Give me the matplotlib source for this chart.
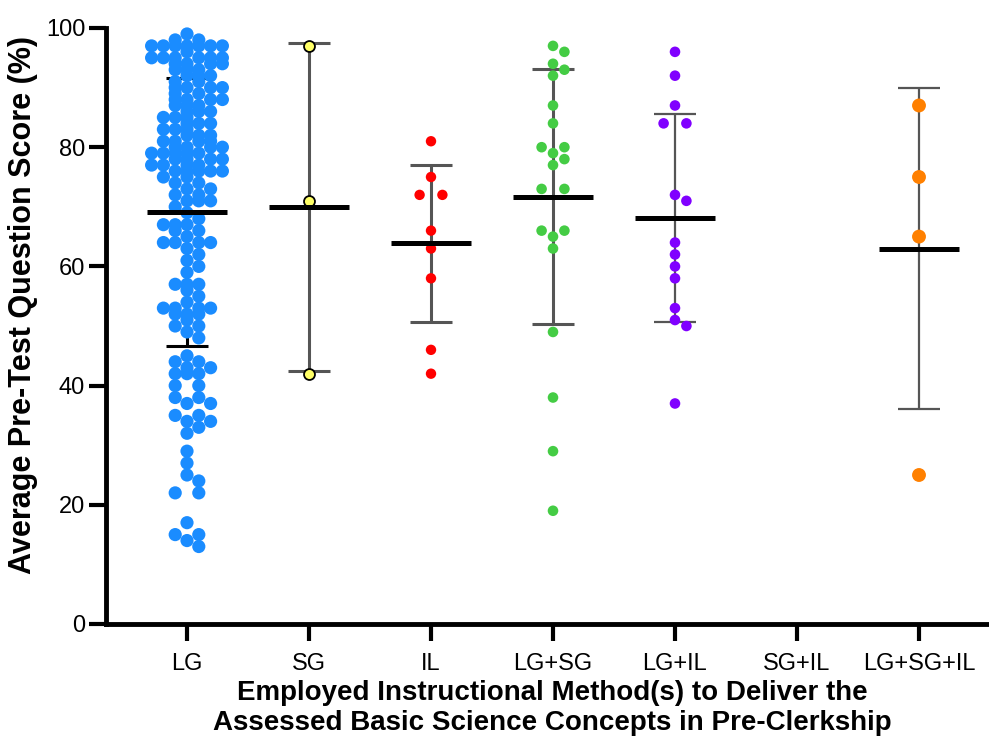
import numpy as np
import matplotlib.pyplot as plt

plt.rcParams['font.family'] = ['Liberation Sans', 'DejaVu Sans']

groups = ["LG", "SG", "IL", "LG+SG", "LG+IL", "SG+IL", "LG+SG+IL"]

# LG: score level -> number of concepts at that level
lg_levels = [99, 98, 97, 96, 95, 94, 93, 92, 91, 90,
             89, 88, 87, 86, 85, 84, 83, 82, 81, 80,
             79, 78, 77, 76, 75, 74, 73, 72, 71, 70,
             69, 68, 67, 66, 65, 64, 63, 62, 61, 60,
             59, 57, 56, 55, 54, 53, 52, 51, 50,
             49, 48, 45, 44, 43, 42, 40,
             38, 37, 35, 34, 33, 32,
             29, 27, 25, 24, 22, 17, 15, 14, 13]
lg_counts = [1, 2, 7, 1, 6, 4, 3, 3, 2, 4,
             2, 4, 3, 3, 3, 3, 3, 3, 4, 4,
             5, 4, 4, 5, 2, 2, 2, 2, 3, 1,
             1, 1, 3, 2, 1, 4, 1, 1, 1, 1,
             1, 3, 1, 1, 1, 4, 3, 1, 2,
             1, 1, 1, 2, 2, 3, 2,
             2, 2, 2, 2, 1, 1,
             1, 1, 1, 1, 2, 1, 2, 1, 1]
lg_scores = np.repeat(lg_levels, lg_counts)

sg_scores = [97, 71, 42]
il_scores = [81, 75, 72, 72, 66, 63, 58, 46, 42]
lgsg_scores = [97, 96, 94, 93, 92, 87, 84, 80, 80, 79, 78, 77,
               73, 73, 66, 66, 65, 63, 49, 38, 29, 19]
lgil_scores = [96, 92, 87, 84, 84, 72, 71, 64, 62, 60, 58, 53, 51, 50, 37]
sgil_scores = []
lgsgil_scores = [87, 75, 65, 25]

all_scores = [lg_scores, sg_scores, il_scores, lgsg_scores,
              lgil_scores, sgil_scores, lgsgil_scores]
colors = ["#1A8CFF", "#FFFF66", "#FF0000", "#44CC44", "#8000FF", "#888888", "#FF8000"]

# pixel scale of the axes (used to lay out the dot columns)
Y_PX = 5.96    # pixels per score unit
X_PX = 122.0   # pixels per category


def column_offsets(scores, step, gap):
    """Equal scores sit side by side in a row; each row is nudged sideways
    (by up to one step) to overlap the rows already drawn as little as possible."""
    scores = np.asarray(scores, float)
    xs = np.zeros(len(scores))
    placed = []
    shifts = [0.0, step, -step, step / 2, -step / 2]
    for v in sorted(set(scores), reverse=True):
        idx = np.where(scores == v)[0]
        n = len(idx)
        if n % 2:
            slots = np.arange(n) - (n - 1) / 2
        else:
            slots = np.concatenate([-np.arange(n // 2, 0, -1), np.arange(1, n // 2 + 1)])
        y = v * Y_PX
        best, best_cost = None, None
        for s in shifts:
            row = slots * step + s
            cost = 0.0
            for x in row:
                for px, py in placed:
                    d = np.hypot(x - px, y - py)
                    if d < gap:
                        cost += gap - d
            cost += 0.02 * np.abs(row).max()
            if best_cost is None or cost < best_cost - 1e-9:
                best, best_cost = row, cost
        xs[idx] = best
        placed += [(x, y) for x in best]
    return xs / X_PX


fig = plt.figure(figsize=(9.89, 7.39), dpi=100)
ax = fig.add_axes([106 / 989, 1 - 624 / 739, (989 - 106) / 989, (624 - 28) / 739])

dot_size = [90, 62, 56, 58, 58, 0, 100]
steps = [11.8, 11.4, 11.4, 11.4, 11.4, 11.4, 14]
bar_color = ["black", "#555555", "#555555", "#555555", "#555555", "#555555", "#555555"]
bar_lw = [2.2, 2.2, 2.2, 2.2, 1.6, 1.6, 1.6]

for i, scores in enumerate(all_scores):
    if len(scores) == 0:
        continue
    scores = np.asarray(scores, float)
    mean = scores.mean()
    sd = scores.std(ddof=1)
    ax.errorbar(i, mean, yerr=sd, fmt="none", ecolor=bar_color[i],
                elinewidth=bar_lw[i], capsize=15, capthick=bar_lw[i], zorder=2)
    xs = i + column_offsets(scores, steps[i], steps[i] * 0.95)
    edge = "black" if groups[i] == "SG" else "none"
    ax.scatter(xs, scores, s=dot_size[i], color=colors[i], edgecolors=edge,
               linewidths=1.3, zorder=3, clip_on=False)
    ax.hlines(mean, i - 0.33, i + 0.33, color="black", lw=3.6, zorder=4)

ax.set_xlim((106 - 187) / X_PX, (989 - 187) / X_PX)
ax.set_ylim(0, 100)
ax.set_xticks(range(len(groups)))
ax.set_xticklabels(groups)
ax.set_yticks(range(0, 101, 20))

for side in ["top", "right"]:
    ax.spines[side].set_visible(False)
for side in ["left", "bottom"]:
    ax.spines[side].set_linewidth(3.5)
ax.tick_params(axis="both", width=3, length=12, labelsize=17, direction="out")
ax.tick_params(axis="x", pad=9)
ax.tick_params(axis="y", pad=3)

fig.text(552 / 989, 1 - 708 / 739,
         "Employed Instructional Method(s) to Deliver the\n"
         "Assessed Basic Science Concepts in Pre-Clerkship",
         ha="center", va="center", fontsize=20, fontweight="bold", linespacing=1.2)
fig.text(23 / 989, 1 - 305 / 739, "Average Pre-Test Question Score (%)",
         rotation=90, ha="center", va="center", fontsize=22, fontweight="bold")

fig.savefig("out.png", dpi=100)
